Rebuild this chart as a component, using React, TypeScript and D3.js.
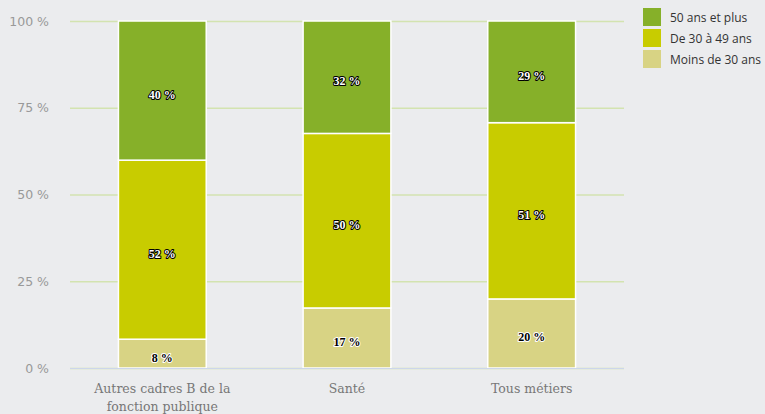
import * as d3 from 'd3';
import React, { useRef, useEffect } from 'react';

const categories = ['Autres cadres B de la fonction publique', 'Santé', 'Tous métiers'];
const seriesNames = ['Moins de 30 ans', 'De 30 à 49 ans', '50 ans et plus'];
const moins30 = [8.3, 17.3, 19.9];
const de30a49 = [51.6, 50.3, 50.8];
const plus50 = [40.1, 32.4, 29.3];
const yTicks = [0, 25, 50, 75, 100];
const colors = ['#d8d384', '#c8cc00', '#86b029'];

export default function App() {
  const svgRef = useRef<SVGSVGElement>(null);
  const width = 765;
  const height = 414;
  const marginLeft = 70;
  const marginRight = 141;
  const marginTop = 21;
  const marginBottom = 46;

  useEffect(() => {
    if (!svgRef.current) return;
    const svg = d3.select(svgRef.current);
    svg.selectAll('*').remove();

    svg.append('rect').attr('width', width).attr('height', height).attr('fill', '#ebecee');

    const rows = categories.map((c, i) => ({
      cat: c,
      'Moins de 30 ans': moins30[i],
      'De 30 à 49 ans': de30a49[i],
      '50 ans et plus': plus50[i],
    }));
    const stacked = d3.stack<any>().keys(seriesNames)(rows);

    const x = d3.scaleBand().domain(categories).range([marginLeft, width - marginRight]).paddingInner(0.53).paddingOuter(0.265);
    const y = d3.scaleLinear().domain([0, 100]).range([height - marginBottom, marginTop]);

    // gridlines
    svg.append('g')
      .selectAll('line')
      .data(yTicks)
      .enter()
      .append('line')
      .attr('x1', marginLeft)
      .attr('x2', width - marginRight)
      .attr('y1', d => y(d) + 0.5)
      .attr('y2', d => y(d) + 0.5)
      .attr('stroke', '#d3e3b0')
      .attr('stroke-width', 1.5);

    // y labels
    svg.append('g')
      .selectAll('text')
      .data(yTicks)
      .enter()
      .append('text')
      .attr('x', 49)
      .attr('y', d => y(d) + 4.5)
      .attr('text-anchor', 'end')
      .attr('font-family', 'DejaVu Sans, sans-serif')
      .attr('font-size', 12.5)
      .attr('fill', '#999')
      .text(d => `${d} %`);

    // bars
    const groups = svg.append('g')
      .selectAll('g')
      .data(stacked)
      .enter()
      .append('g')
      .attr('fill', (d, i) => colors[i]);

    groups.selectAll('rect')
      .data(d => d.map(p => ({ p, cat: (p.data as any).cat })))
      .enter()
      .append('rect')
      .attr('x', d => x(d.cat)! - 0.5)
      .attr('width', x.bandwidth() + 1)
      .attr('y', d => y(d.p[1]))
      .attr('height', d => y(d.p[0]) - y(d.p[1]))
      .attr('stroke', '#ffffff')
      .attr('stroke-width', 1.5);

    // data labels (contrast: white on darker segments, black on the pale one)
    groups.selectAll('text')
      .data((d, i) => d.map(p => ({ p, cat: (p.data as any).cat, s: i })))
      .enter()
      .append('text')
      .attr('x', d => x(d.cat)! + x.bandwidth() / 2)
      .attr('y', d => (y(d.p[0]) + y(d.p[1])) / 2 + 8)
      .attr('text-anchor', 'middle')
      .attr('font-family', 'Liberation Serif, serif')
      .attr('font-weight', 'bold')
      .attr('font-size', 12)
      .attr('fill', d => (d.s === 0 ? '#000' : '#fff'))
      .attr('stroke', d => (d.s === 0 ? '#fff' : '#000'))
      .attr('stroke-width', 2)
      .attr('stroke-linejoin', 'round')
      .attr('paint-order', 'stroke')
      .text(d => `${Math.round(d.p[1] - d.p[0])} %`);

    // x axis line
    svg.append('line')
      .attr('x1', marginLeft)
      .attr('x2', width - marginRight)
      .attr('y1', height - marginBottom + 0.5)
      .attr('y2', height - marginBottom + 0.5)
      .attr('stroke', '#ccd6eb');

    // x labels
    const xLabelLines: Record<string, string[]> = {
      [categories[0]]: ['Autres cadres B de la', 'fonction publique'],
      [categories[1]]: ['Santé'],
      [categories[2]]: ['Tous métiers'],
    };
    const xl = svg.append('g')
      .selectAll('text')
      .data(categories)
      .enter()
      .append('text')
      .attr('x', d => x(d)! + x.bandwidth() / 2)
      .attr('y', 393)
      .attr('text-anchor', 'middle')
      .attr('font-family', 'DejaVu Serif, serif')
      .attr('font-size', 12.5)
      .attr('fill', '#777');
    xl.selectAll('tspan')
      .data(d => xLabelLines[d])
      .enter()
      .append('tspan')
      .attr('x', function () { return (this.parentNode as SVGTextElement).getAttribute('x'); })
      .attr('dy', (d, i) => (i === 0 ? 0 : 18))
      .text(d => d);

    // legend
    const legendOrder = [2, 1, 0];
    const lg = svg.append('g')
      .selectAll('g')
      .data(legendOrder)
      .enter()
      .append('g')
      .attr('transform', (d, i) => `translate(643,${8 + i * 21})`);
    lg.append('rect').attr('width', 18).attr('height', 18).attr('fill', d => colors[d]);
    lg.append('text')
      .attr('x', 27)
      .attr('y', 13.5)
      .attr('font-family', 'Open Sans, sans-serif')
      .attr('font-size', 12)
      .attr('fill', '#333')
      .text(d => seriesNames[d]);
  }, []);

  return (
    <svg ref={svgRef} width={width} height={height} style={{ position: 'absolute', left: 0, top: 0 }} />
  );
}
